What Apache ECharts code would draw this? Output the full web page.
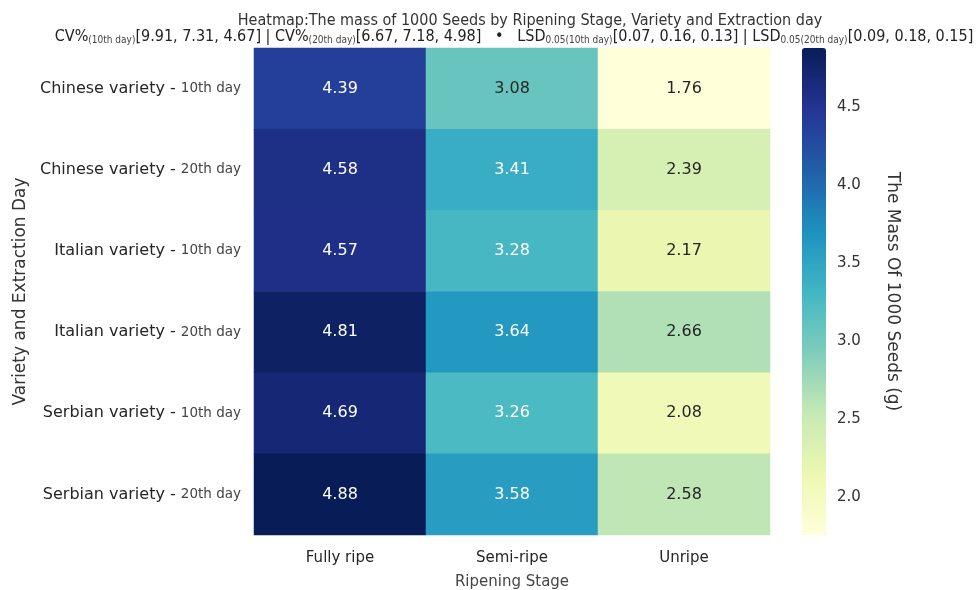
<!DOCTYPE html>
<html>
<head>
<meta charset="utf-8">
<script src="https://cdn.jsdelivr.net/npm/echarts@6/dist/echarts.min.js"></script>
<style>
  html, body { margin: 0; padding: 0; background: #fff; }
  #chart { width: 980px; height: 590px; }
</style>
</head>
<body>
<div id="chart"></div>
<script>
// data
const stages = ['Fully ripe', 'Semi-ripe', 'Unripe'];
const varieties = ['Chinese variety', 'Chinese variety', 'Italian variety', 'Italian variety', 'Serbian variety', 'Serbian variety'];
const days = ['10th day', '20th day', '10th day', '20th day', '10th day', '20th day'];
const fullyRipe = [4.39, 4.58, 4.57, 4.81, 4.69, 4.88];
const semiRipe  = [3.08, 3.41, 3.28, 3.64, 3.26, 3.58];
const unripe    = [1.76, 2.39, 2.17, 2.66, 2.08, 2.58];
const barTicks  = [2.0, 2.5, 3.0, 3.5, 4.0, 4.5];
const vMin = 1.76, vMax = 4.88;

const ylgnbu = ['#ffffd9', '#edf8b1', '#c7e9b4', '#7fcdbb', '#41b6c4', '#1d91c0', '#225ea8', '#253494', '#081d58'];
const FONT = 'DejaVu Sans';
const NARROW = 'DejaVu Sans Condensed';

const rowNames = varieties.map((v, i) => v + '|' + days[i]);
const cols = [fullyRipe, semiRipe, unripe];

const cells = [];
cols.forEach((vals, c) => {
  vals.forEach((v, r) => {
    cells.push({
      value: [c, r, v],
      label: { color: v > 3.2 ? '#ffffff' : '#262626' }
    });
  });
});

const initChart = () => {
  const chart = echarts.init(document.getElementById('chart'));
  chart.setOption({
    backgroundColor: '#fff',
    animation: false,
    title: [{
      text: 'Heatmap:The mass of 1000 Seeds by Ripening Stage, Variety and Extraction day',
      left: 525, top: 8, textAlign: 'center',
      textStyle: { fontFamily: NARROW, fontSize: 16, fontWeight: 'normal', color: '#333' }
    }, {
      text: '{a|CV%}{s|(10th day)}{a|[9.91, 7.31, 4.67] | CV%}{s|(20th day)}{a|[6.67, 7.18, 4.98]   •   LSD}{s|0.05(10th day)}{a|[0.07, 0.16, 0.13] | LSD}{s|0.05(20th day)}{a|[0.09, 0.18, 0.15]}',
      left: 509, top: 24, textAlign: 'center',
      textStyle: {
        fontWeight: 'normal',
        rich: {
          a: { fontFamily: NARROW, fontSize: 16, fontWeight: 'normal', color: '#222' },
          s: { fontFamily: NARROW, fontSize: 10, fontWeight: 'normal', color: '#444', verticalAlign: 'bottom', padding: [4, 0, 0, 0] }
        }
      }
    }],
    grid: [
      { left: 254, top: 48, width: 516, height: 487, outerBoundsMode: 'none' },
      { left: 802, top: 48, width: 24, height: 487, outerBoundsMode: 'none' }
    ],
    xAxis: [{
      type: 'category', data: stages, gridIndex: 0,
      axisLine: { show: false }, axisTick: { show: false }, splitLine: { show: false },
      axisLabel: { fontFamily: FONT, fontSize: 15, color: '#262626', margin: 16 },
      name: 'Ripening Stage', nameLocation: 'middle', nameGap: 40,
      nameTextStyle: { fontFamily: FONT, fontSize: 15, color: '#444' }
    }, {
      type: 'value', gridIndex: 1, show: false, min: 0, max: 1
    }],
    yAxis: [{
      type: 'category', data: rowNames, inverse: true, gridIndex: 0,
      axisLine: { show: false }, axisTick: { show: false }, splitLine: { show: false },
      axisLabel: {
        margin: 13,
        formatter: (val) => {
          const p = val.split('|');
          return '{a|' + p[0] + ' - }{b|' + p[1] + '}';
        },
        rich: {
          a: { fontFamily: FONT, fontSize: 16, color: '#262626' },
          b: { fontFamily: FONT, fontSize: 13.5, color: '#444' }
        }
      },
      name: 'Variety and Extraction Day', nameLocation: 'middle', nameGap: 222, nameRotate: 90,
      nameTextStyle: { fontFamily: FONT, fontSize: 17, color: '#333' }
    }, {
      type: 'value', gridIndex: 1, position: 'right', min: vMin, max: vMax,
      axisLine: { show: false }, splitLine: { show: false },
      axisTick: { show: true, length: 5, customValues: barTicks, lineStyle: { color: '#333' } },
      axisLabel: {
        customValues: barTicks, margin: 11, fontFamily: FONT, fontSize: 15, color: '#333',
        formatter: (v) => v.toFixed(1)
      },
      name: 'The Mass Of 1000 Seeds (g)', nameLocation: 'middle', nameGap: 58, nameRotate: -90,
      nameTextStyle: { fontFamily: FONT, fontSize: 17, color: '#333' }
    }],
    visualMap: {
      type: 'continuous', min: vMin, max: vMax, seriesIndex: 0,
      calculable: false, orient: 'vertical',
      left: 802, top: 48, itemWidth: 24, itemHeight: 487, padding: 0,
      text: ['', ''], showLabel: false,
      inRange: { color: ylgnbu }
    },
    series: [{
      type: 'heatmap', xAxisIndex: 0, yAxisIndex: 0,
      data: cells,
      label: {
        show: true, fontFamily: FONT, fontSize: 16,
        formatter: (p) => p.value[2].toFixed(2)
      },
      emphasis: { disabled: true }
    }]
  });
};

window.addEventListener('load', () => {
  initChart();
});
</script>
</body>
</html>
